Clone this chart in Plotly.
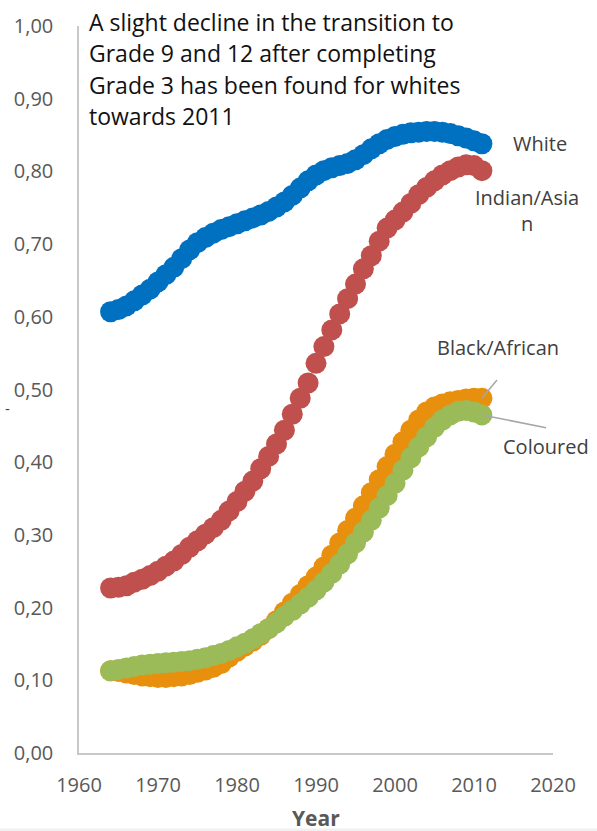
import plotly.graph_objects as go

# Transition rates (Grade 3 -> Grade 9 and 12) by population group, 1964-2011
years = [1964, 1965, 1966, 1967, 1968, 1969, 1970, 1971, 1972, 1973, 1974, 1975,
         1976, 1977, 1978, 1979, 1980, 1981, 1982, 1983, 1984, 1985, 1986, 1987,
         1988, 1989, 1990, 1991, 1992, 1993, 1994, 1995, 1996, 1997, 1998, 1999,
         2000, 2001, 2002, 2003, 2004, 2005, 2006, 2007, 2008, 2009, 2010, 2011]

white = [0.607, 0.610, 0.615, 0.622, 0.630, 0.638, 0.648, 0.658, 0.668, 0.680, 0.692, 0.702,
         0.709, 0.715, 0.720, 0.724, 0.728, 0.732, 0.736, 0.740, 0.745, 0.751, 0.758, 0.767,
         0.777, 0.787, 0.795, 0.801, 0.805, 0.808, 0.811, 0.816, 0.823, 0.831, 0.838, 0.844,
         0.848, 0.851, 0.853, 0.854, 0.855, 0.855, 0.854, 0.852, 0.849, 0.846, 0.842, 0.838]

indian_asian = [0.227, 0.228, 0.230, 0.235, 0.239, 0.244, 0.250, 0.257, 0.264, 0.273, 0.283, 0.292,
                0.301, 0.310, 0.320, 0.333, 0.346, 0.360, 0.374, 0.391, 0.408, 0.425, 0.444, 0.466,
                0.488, 0.509, 0.536, 0.559, 0.582, 0.604, 0.625, 0.645, 0.666, 0.684, 0.704, 0.722,
                0.733, 0.744, 0.756, 0.768, 0.778, 0.787, 0.795, 0.801, 0.806, 0.809, 0.808, 0.801]

black_african = [0.113, 0.112, 0.110, 0.108, 0.106, 0.105, 0.104, 0.104, 0.105, 0.106, 0.108, 0.111,
                 0.114, 0.118, 0.123, 0.132, 0.140, 0.147, 0.154, 0.162, 0.171, 0.182, 0.194, 0.206,
                 0.218, 0.230, 0.242, 0.256, 0.272, 0.289, 0.306, 0.323, 0.340, 0.358, 0.376, 0.394,
                 0.411, 0.428, 0.444, 0.458, 0.469, 0.476, 0.480, 0.483, 0.485, 0.487, 0.488, 0.488]

coloured = [0.113, 0.115, 0.117, 0.119, 0.121, 0.122, 0.123, 0.124, 0.125, 0.126, 0.127, 0.129,
            0.131, 0.134, 0.137, 0.141, 0.146, 0.151, 0.157, 0.164, 0.171, 0.179, 0.188, 0.196,
            0.205, 0.214, 0.224, 0.235, 0.247, 0.260, 0.274, 0.289, 0.304, 0.320, 0.337, 0.354,
            0.371, 0.389, 0.406, 0.421, 0.435, 0.448, 0.458, 0.465, 0.470, 0.471, 0.469, 0.465]

x_ticks = [1960, 1970, 1980, 1990, 2000, 2010, 2020]
y_ticks = [0.0, 0.1, 0.2, 0.3, 0.4, 0.5, 0.6, 0.7, 0.8, 0.9, 1.0]
y_tick_labels = ["0,00", "0,10", "0,20", "0,30", "0,40", "0,50",
                 "0,60", "0,70", "0,80", "0,90", "1,00"]

note_lines = ["A slight decline in the transition to",
              "Grade 9 and 12 after completing",
              "Grade 3 has been found for whites",
              "towards 2011"]

series = [
    ("White", white, "#0070C0"),
    ("Indian/Asian", indian_asian, "#C0504D"),
    ("Black/African", black_african, "#E8900E"),
    ("Coloured", coloured, "#9BBB59"),
]

# Plot-area geometry (pixels) used to place free-floating labels
L, R, T, B = 79, 553, 20, 753
X0, X1 = 1960, 2020


def px_x(px):
    return X0 + (px - L) / (R - L) * (X1 - X0)


def px_y(py):
    return (B - py) / (B - T)


def paper_x(px):
    return (px - L) / (R - L)


fig = go.Figure()
for name, vals, color in series:
    fig.add_trace(go.Scatter(
        x=years, y=vals, name=name, mode="markers",
        marker=dict(size=21, color=color, line=dict(width=0)),
        hoverinfo="x+y+name",
    ))

label_font = dict(family="Open Sans", size=20, color="#404040")
annotations = []

# Note in the top-left corner, one annotation per line for even spacing
for i, line in enumerate(note_lines):
    annotations.append(dict(
        x=paper_x(87), y=px_y(16 + 31.7 * i), xref="paper", yref="paper",
        xanchor="left", yanchor="middle", align="left", showarrow=False,
        text=line, font=dict(family="Open Sans", size=23, color="#111111")))

annotations += [
    dict(x=px_x(540), y=px_y(138), text="White", showarrow=False, font=label_font),
    dict(x=px_x(527), y=px_y(206), text="Indian/Asia<br>n", showarrow=False, font=label_font),
    dict(x=px_x(498), y=px_y(344), text="Black/African", showarrow=False, font=label_font),
    dict(x=px_x(546), y=px_y(444), text="Coloured", showarrow=False, font=label_font),
    dict(x=0.5, y=px_y(831), xref="paper", yref="paper", xanchor="center", yanchor="bottom",
         yshift=-3, borderpad=0,
         text="<b>Year</b>", showarrow=False,
         font=dict(family="Open Sans", size=21, color="#595959")),
    dict(x=paper_x(3), y=px_y(405), xref="paper", yref="paper",
         text="-", showarrow=False,
         font=dict(family="Open Sans", size=15, color="#404040")),
]

# Leader lines from the last point of two series to their labels
shapes = [
    dict(type="line", x0=years[-1], y0=black_african[-1], x1=px_x(497), y1=px_y(377),
         line=dict(color="#A6A6A6", width=1.5)),
    dict(type="line", x0=years[-1], y0=coloured[-1], x1=px_x(546), y1=px_y(425),
         line=dict(color="#A6A6A6", width=1.5)),
    dict(type="rect", xref="paper", yref="paper", x0=-0.2, x1=1.2,
         y0=px_y(829), y1=px_y(832), fillcolor="#F0F0F0", line=dict(width=0), layer="below"),
]

fig.update_layout(
    width=597, height=831,
    margin=dict(l=L, r=597 - R, t=T, b=831 - B),
    paper_bgcolor="white", plot_bgcolor="white",
    showlegend=False,
    font=dict(family="Open Sans", color="#595959"),
    annotations=annotations,
    shapes=shapes,
    xaxis=dict(range=[X0, X1], tickvals=x_ticks, showgrid=False, zeroline=False,
               showline=True, linecolor="#C8C8C8", linewidth=1.5, ticks="",
               tickfont=dict(family="Open Sans", size=20, color="#595959"),
               ticklabelstandoff=13),
    yaxis=dict(range=[0, 1], tickvals=y_ticks, ticktext=y_tick_labels,
               showgrid=False, zeroline=False, showline=True, linecolor="#C8C8C8",
               linewidth=1.5, ticks="",
               tickfont=dict(family="Open Sans", size=20, color="#595959"),
               ticklabelstandoff=20),
)

fig.write_html("out.html")
